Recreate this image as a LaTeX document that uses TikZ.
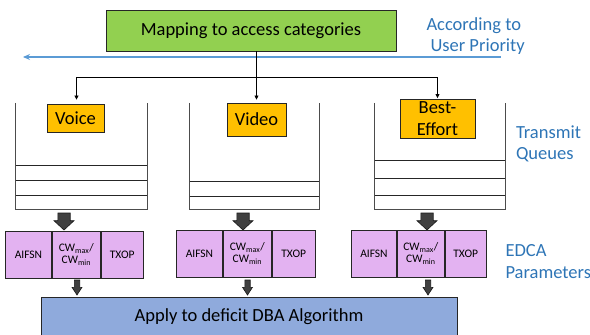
\documentclass[tikz,border=0pt]{standalone}
\usepackage{fontspec}
\setmainfont{Carlito}
\usetikzlibrary{arrows.meta}

\definecolor{mapgreen}{HTML}{92D050}
\definecolor{acorange}{HTML}{FFC000}
\definecolor{edcapink}{HTML}{E3B2F1}
\definecolor{dbablue}{HTML}{8FAADC}
\definecolor{notetext}{HTML}{2E75B6}
\definecolor{noteline}{HTML}{5B9BD5}
\definecolor{blockgray}{HTML}{404040}

\tikzset{
  bigfont/.style={font=\fontsize{18.5}{21.7}\selectfont},
  cellfont/.style={font=\fontsize{11.5}{12.5}\selectfont},
  box/.style={draw=black!85, line width=0.9pt, inner sep=0pt, align=center, bigfont},
  mapbox/.style={box, fill=mapgreen, minimum width=290, minimum height=41},
  acbox/.style={box, fill=acorange},
  dbabox/.style={box, fill=dbablue, minimum width=416, minimum height=40},
  edcacell/.style={draw=black!85, line width=0.9pt, fill=edcapink, inner sep=0pt,
    minimum height=47, anchor=west, align=center, cellfont},
  note/.style={text=notetext, align=left, anchor=west, bigfont},
  qslot/.style={inner sep=0pt, minimum width=#1, minimum height=106},
  qwall/.style={draw=black!70, line width=1pt},
  qline/.style={draw=black!85, line width=0.9pt},
  feed/.style={draw=black, line width=0.7pt, -{Triangle[length=4pt,width=4pt]}},
  bigdown/.pic={
    \filldraw[fill=blockgray, draw=black!90, line width=0.6pt]
      (-6.2,0) -- (-6.2,7.7) -- (-10,7.7) -- (0,17) -- (10,7.7) -- (6.2,7.7) -- (6.2,0) -- cycle;
  },
  smalldown/.pic={
    \filldraw[fill=blockgray, draw=black!90, line width=0.6pt]
      (-2.7,0) -- (-2.7,7.3) -- (-5,7.3) -- (0,15) -- (5,7.3) -- (2.7,7.3) -- (2.7,0) -- cycle;
  },
}

\begin{document}
\begin{tikzpicture}[x=1pt, y=-1pt]
  \useasboundingbox (0,0) rectangle (590,335);

  % classifier
  \node[mapbox] (map) at (251,30.5) {Mapping to access categories};

  % user priority arrow and its label
  \coordinate (prioR) at (501,57);
  \coordinate (prioL) at (23,57);
  \draw[noteline, line width=1.8pt, {Stealth[length=7pt,width=6pt]}-] (prioL) -- (prioR);
  \node[note] (prio) at (423,36) {According to\\\hspace*{4pt}User Priority};

  % access categories
  \node[acbox, minimum width=57, minimum height=28.7] (voice) at (75.5,118.4) {Voice};
  \node[acbox, minimum width=59, minimum height=33] (video) at (256.5,119.5) {Video};
  \node[acbox, minimum width=75, minimum height=39] (best) at (437.5,118.5) {Best-\\Effort};

  % distribution to the categories
  \coordinate (fork) at (256.5,77);
  \draw[feed, shorten >=3pt] (map.south -| video.north) -- (video.north);
  \draw[feed, shorten >=4pt] (fork) -| ([xshift=1pt]voice.north);
  \draw[feed, shorten >=0.5pt] (fork) -| (best.north);

  % transmit queues
  \node[qslot=131] (q1) at (81.5,156) {};
  \node[qslot=129] (q2) at (254.5,156) {};
  \node[qslot=130] (q3) at (440,156) {};
  \foreach \q in {q1,q2,q3}{
    \draw[qwall] (\q.north west) -- (\q.south west) -- (\q.south east) -- (\q.north east);
  }
  \foreach \y in {165.7,180,195.7}{ \draw[qline] (q1.west |- 0,\y) -- (q1.east |- 0,\y); }
  \foreach \y in {181,196.7}{ \draw[qline] (q2.west |- 0,\y) -- (q2.east |- 0,\y); }
  \foreach \y in {160,178,195.7}{ \draw[qline] (q3.west |- 0,\y) -- (q3.east |- 0,\y); }
  \node[note] (tq) at (512.5,144) {Transmit\\Queues};

  % queue to parameter arrows
  \pic at (64,213) {bigdown};
  \pic at (243,213) {bigdown};
  \pic at (427,213) {bigdown};

  % EDCA parameter sets
  \node[edcacell, minimum width=46] (e1a) at (5,254.5) {AIFSN};
  \node[edcacell, minimum width=48] (e1b) at (e1a.east) {CW\textsubscript{max}/\\CW\textsubscript{min}};
  \node[edcacell, minimum width=42] (e1c) at (e1b.east) {TXOP};

  \node[edcacell, minimum width=46] (e2a) at (176,253.5) {AIFSN};
  \node[edcacell, minimum width=48] (e2b) at (e2a.east) {CW\textsubscript{max}/\\CW\textsubscript{min}};
  \node[edcacell, minimum width=43] (e2c) at (e2b.east) {TXOP};

  \node[edcacell, minimum width=45] (e3a) at (351,253.5) {AIFSN};
  \node[edcacell, minimum width=47] (e3b) at (e3a.east) {CW\textsubscript{max}/\\CW\textsubscript{min}};
  \node[edcacell, minimum width=41] (e3c) at (e3b.east) {TXOP};

  \node[note] (edca) at (502,261.5) {EDCA\\Parameters};

  % parameter to algorithm arrows
  \pic at (77,280) {smalldown};
  \pic at (247.5,280) {smalldown};
  \pic at (428,280) {smalldown};

  % scheduler
  \node[dbabox] (dba) at (249,317) {Apply to deficit DBA Algorithm};
\end{tikzpicture}
\end{document}
